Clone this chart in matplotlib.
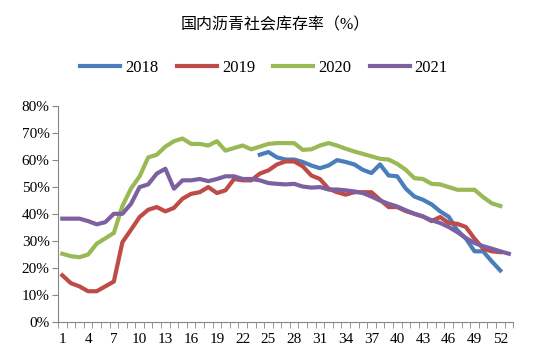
import numpy as np
import matplotlib
matplotlib.use('Agg')
import matplotlib.pyplot as plt

plt.rcParams['font.family'] = ['Liberation Serif', 'Noto Sans CJK SC']

# 周度数据（%）
weeks_2018 = list(range(24, 53))
y2018 = [62, 63, 61, 60.2, 60.2, 59.3, 58, 57, 58, 60, 59.3, 58.4, 56.4, 55.2, 58.4,
         54.3, 54, 49.4, 46.5, 45.3, 43.6, 41, 39, 34, 30.9, 26.2, 26.2, 22.5, 19.1]
weeks_2019 = list(range(1, 53))
y2019 = [17.3, 14.4, 13.2, 11.4, 11.4, 13.2, 15, 29.6, 34.2, 38.9, 41.6, 42.6, 41, 42.3,
         45.7, 47.5, 48.1, 50, 47.8, 48.8, 53, 52.5, 52.5, 55, 56.2, 58.4, 59.5, 59.5,
         57.7, 54.3, 53, 49.4, 48.1, 47.2, 48.1, 48.1, 48.1, 45.3, 42.6, 42.6, 41.1, 40.1,
         39.1, 37.4, 38.9, 36.7, 36.4, 35.2, 30.9, 27.2, 26.2, 25.9]
weeks_2020 = list(range(1, 53))
y2020 = [25.3, 24.4, 24, 25, 29, 31, 33, 43, 49.5, 54, 61, 62, 65, 67, 68, 66, 66, 65.4,
         67, 63.5, 64.5, 65.4, 64, 65, 66, 66.3, 66.3, 66.3, 63.8, 64, 65.4, 66.3, 65.4,
         64.2, 63.2, 62.3, 61.4, 60.5, 60.2, 58.6, 56.4, 53.3, 53, 51.2, 51, 50, 49, 49,
         49, 46.3, 44, 43]
weeks_2021 = list(range(1, 54))
y2021 = [38.3, 38.3, 38.3, 37.4, 36.2, 37, 40.1, 40.1, 43.8, 50, 51, 55, 56.8, 49.4,
         52.5, 52.5, 53, 52.2, 53, 54, 54, 53, 53, 52.5, 51.5, 51.2, 51, 51.2, 50.2, 49.8,
         50, 49.1, 49.1, 48.8, 48.4, 47.8, 46.5, 45, 43.8, 42.8, 41.4, 40.1, 39.1, 37.7,
         36.7, 35.2, 33.3, 31.1, 29.3, 28.1, 27.2, 26.2, 25.3]

fig = plt.figure(figsize=(5.5, 3.61), dpi=100)
ax = fig.add_axes([0.1055, 0.108, 0.8275, 0.598])

ax.plot(weeks_2018, y2018, color='#4A7EBB', lw=3, label='2018')
ax.plot(weeks_2019, y2019, color='#BE4B48', lw=3, label='2019')
ax.plot(weeks_2020, y2020, color='#98B954', lw=3, label='2020')
ax.plot(weeks_2021, y2021, color='#7D60A0', lw=3, label='2021')

ax.set_xlim(0.5, 53.5)
ax.set_ylim(0, 80)
ax.set_yticks(range(0, 81, 10))
ax.set_yticklabels([f'{v}%' for v in range(0, 81, 10)], fontsize=11)
ax.set_xticks(list(range(1, 53, 3)))
ax.set_xticklabels([str(v) for v in range(1, 53, 3)], fontsize=11)
ax.set_xticks(np.arange(0.5, 54, 1), minor=True)
ax.tick_params(axis='x', which='major', length=0, pad=8)
ax.tick_params(axis='x', which='minor', length=4, color='#868686')
ax.tick_params(axis='y', length=4, color='#868686', pad=2)
for s in ['top', 'right']:
    ax.spines[s].set_visible(False)
for s in ['left', 'bottom']:
    ax.spines[s].set_color('#868686')

fig.text(0.5, 0.929, '国内沥青社会库存率（%）', ha='center', va='center', fontsize=11.5)
fig.legend(loc='center', bbox_to_anchor=(0.48, 0.812), ncol=4, frameon=False, fontsize=12,
           handlelength=2.4, handletextpad=0.3, columnspacing=1.1)

fig.savefig('out.png', dpi=100)
